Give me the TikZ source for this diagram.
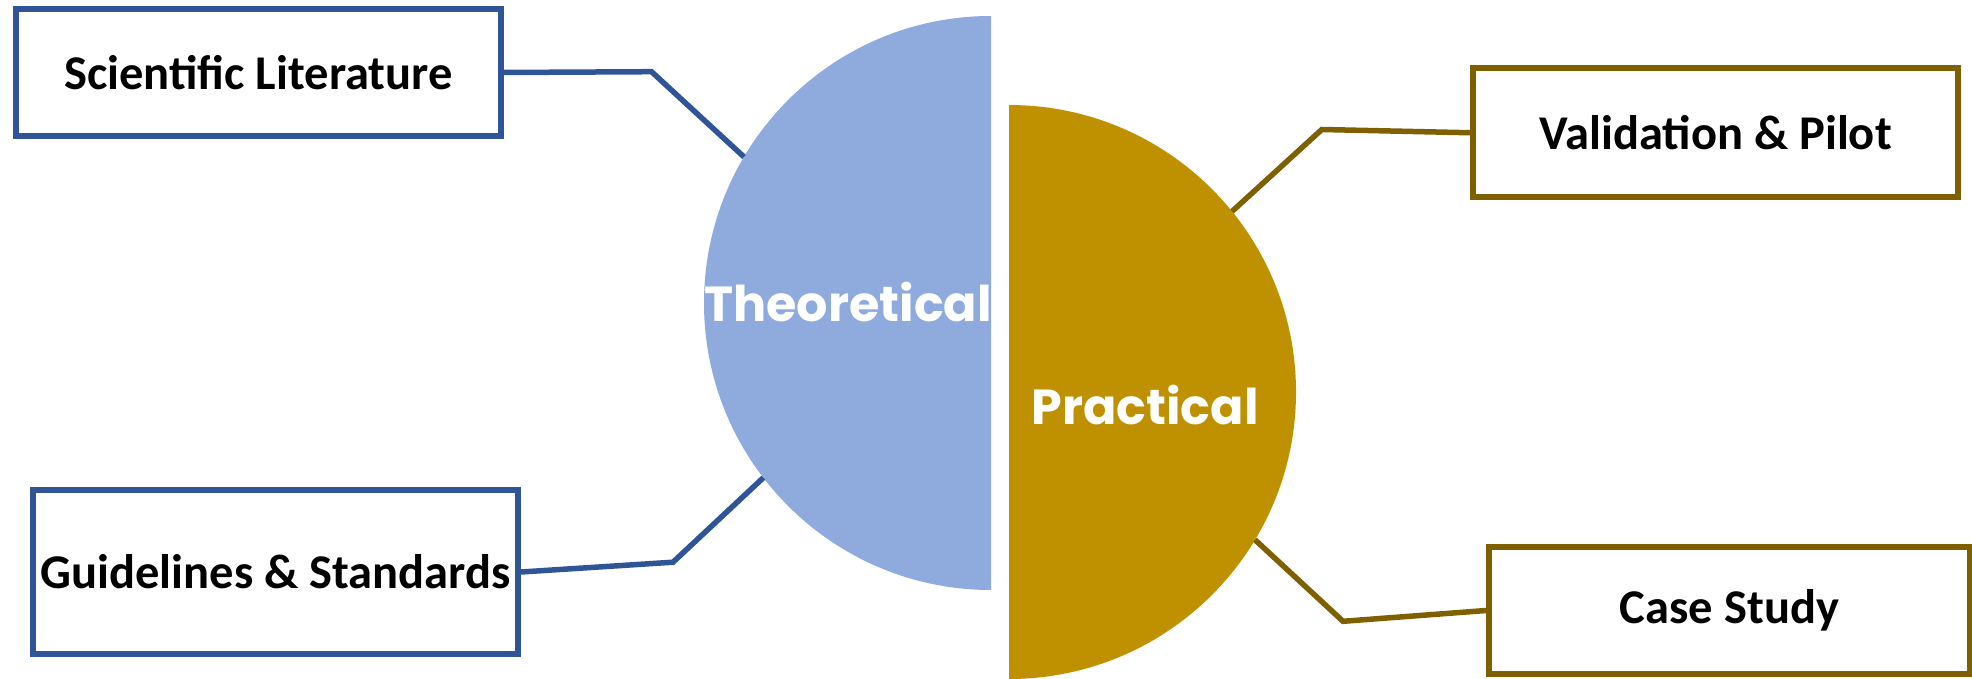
\documentclass[tikz,border=0pt]{standalone}
\usepackage{fontspec}
\setmainfont{Carlito}
\newfontfamily\halffont{Poppins}

\definecolor{theofill}{HTML}{8FAADC}
\definecolor{theoline}{HTML}{2F5597}
\definecolor{pracfill}{HTML}{BF9000}
\definecolor{pracline}{HTML}{7F6000}

\begin{document}
\begin{tikzpicture}[
    srcbox/.style={draw,line width=0.06cm,fill=white,inner sep=0pt,minimum width=4.85cm,
        font=\fontsize{13.8}{16}\selectfont\bfseries},
    halflabel/.style={text=white,font=\halffont\fontsize{14}{16}\selectfont\bfseries},
    theolink/.style={draw=theoline,line width=0.055cm},
    praclink/.style={draw=pracline,line width=0.055cm}]
    \useasboundingbox (0,0) rectangle (19.72,6.78);
    % the two halves
    \coordinate (theoc) at (9.91,3.75);
    \coordinate (pracc) at (10.09,2.86);
    \fill[theofill] (9.91,6.62) arc (90:270:2.87) -- cycle;
    \fill[pracfill] (10.09,5.73) arc (90:-90:2.87) -- cycle;
    \draw (8.48,3.76) node[halflabel](theo) {Theoretical}
        (11.45,2.73) node[halflabel](prac) {Practical};
    % boxes
    \draw (2.585,6.055) node[srcbox,draw=theoline,minimum height=1.27cm](lit) {Scientific Literature}
        (2.755,1.06) node[srcbox,draw=theoline,minimum height=1.635cm](guide) {Guidelines \& Standards}
        (17.155,5.4525) node[srcbox,draw=pracline,minimum height=1.295cm](valid) {Validation \& Pilot}
        (17.295,0.675) node[srcbox,draw=pracline,minimum height=1.27cm,minimum width=4.81cm](case) {Case Study};
    % bends and ends on the rims
    \coordinate (litbend) at (6.515,6.063);
    \coordinate (guidebend) at (6.73,1.158);
    \coordinate (validbend) at (13.218,5.485);
    \coordinate (casebend) at (13.43,0.567);
    \coordinate (litend) at ([shift={(149.4:2.87)}]theoc);
    \coordinate (guideend) at ([shift={(217.5:2.87)}]theoc);
    \coordinate (validend) at ([shift={(39:2.87)}]pracc);
    \coordinate (caseend) at ([shift={(-31:2.87)}]pracc);
    \draw[theolink] (lit.east) -- (litbend) -- (litend);
    \draw[theolink] (guide.east) -- (guidebend) -- (guideend);
    \draw[praclink] (valid.west) -- (validbend) -- (validend);
    \draw[praclink] (case.west) -- (casebend) -- (caseend);
\end{tikzpicture}
\end{document}
